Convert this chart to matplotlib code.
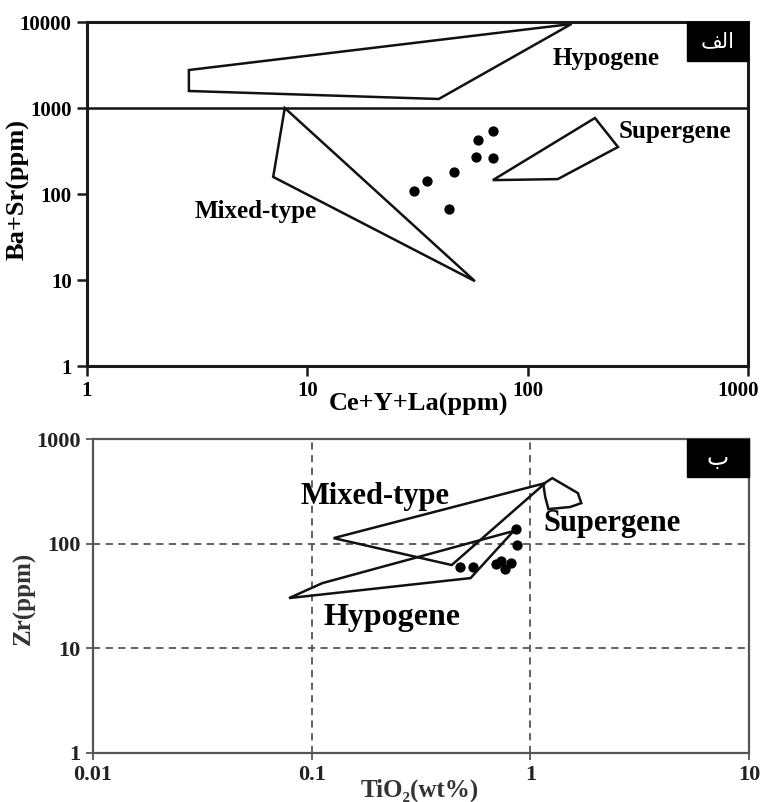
import matplotlib
matplotlib.use("Agg")
import matplotlib.pyplot as plt
import matplotlib.transforms as mtransforms
from matplotlib.patches import Polygon, Rectangle
from matplotlib.ticker import FixedLocator, NullLocator, FixedFormatter

plt.rcParams['font.family'] = ['Liberation Serif', 'DejaVu Sans']
plt.rcParams['font.weight'] = 'bold'

# ---------------- Data: top panel (Ba+Sr vs Ce+Y+La) ----------------
top_hypo_x = [2.9, 158, 39.5, 2.9]
top_hypo_y = [2765, 9480, 1273, 1577]
top_mixed_x = [7.9, 7.0, 57.6]
top_mixed_y = [1000, 158, 9.7]
top_super_x = [202, 257, 137, 69.5]
top_super_y = [765, 352, 149, 145]
top_sample_x = [69.5, 59.4, 58.2, 69.5, 46.3, 34.9, 30.5, 43.9]
top_sample_y = [540, 425, 269, 262, 180, 142, 108, 67]
top_xticks = [1, 10, 100, 1000]
top_xticklabels = ["1", "10", "100", "1000"]
top_yticks = [1, 10, 100, 1000, 10000]
top_yticklabels = ["1", "10", "100", "1000", "10000"]
top_boundary = 1000

# ---------------- Data: bottom panel (Zr vs TiO2) ----------------
bot_hypo_x = [0.0788, 0.112, 0.838, 0.533]
bot_hypo_y = [30.2, 42, 132, 46.9]
bot_mixed_x = [0.126, 1.17, 0.437]
bot_mixed_y = [113, 379, 62.5]
bot_super_x = [1.146, 1.26, 1.65, 1.71, 1.52, 1.21, 1.17]
bot_super_y = [371, 423, 304, 244, 224, 214, 279]
bot_sample_x = [0.475, 0.545, 0.694, 0.738, 0.769, 0.818, 0.863, 0.873]
bot_sample_y = [59.8, 59.8, 63.8, 68.2, 57.2, 65.3, 138, 97]
bot_xticks = [0.01, 0.1, 1, 10]
bot_xticklabels = ["0.01", "0.1", "1", "10"]
bot_yticks = [1, 10, 100, 1000]
bot_yticklabels = ["1", "10", "100", "1000"]

W, H = 763, 802
fig = plt.figure(figsize=(W / 100, H / 100), dpi=100)

def fx(px):
    return px / W

def fy(py):
    return 1 - py / H

# ---------------- Top axes ----------------
ax1 = fig.add_axes([fx(87), fy(366), fx(748) - fx(87), fy(22) - fy(366)])
ax1.set_xscale('log')
ax1.set_yscale('log')
ax1.set_xlim(1, 1000)
ax1.set_ylim(1, 10000)
for s in ax1.spines.values():
    s.set_linewidth(2.2)
    s.set_color('#1a1a1a')

ax1.xaxis.set_major_locator(FixedLocator(top_xticks))
ax1.xaxis.set_major_formatter(FixedFormatter(top_xticklabels))
ax1.yaxis.set_major_locator(FixedLocator(top_yticks))
ax1.yaxis.set_major_formatter(FixedFormatter(top_yticklabels))
ax1.xaxis.set_minor_locator(NullLocator())
ax1.yaxis.set_minor_locator(NullLocator())
ax1.tick_params(axis='both', direction='out', length=7, width=1.8, color='#1a1a1a',
                labelsize=15, pad=4)
for lab in ax1.get_xticklabels() + ax1.get_yticklabels():
    lab.set_fontweight('bold')
# keep last x tick label inside the figure
last = ax1.get_xticklabels()[-1]
last.set_transform(last.get_transform() +
                   mtransforms.ScaledTranslation(-10 / 100, 0, fig.dpi_scale_trans))

lw = 1.8
ax1.add_patch(Polygon(list(zip(top_hypo_x, top_hypo_y)), closed=True, fill=False,
                      edgecolor='#111111', linewidth=lw))
ax1.add_patch(Polygon(list(zip(top_mixed_x, top_mixed_y)), closed=True, fill=False,
                      edgecolor='#111111', linewidth=lw))
ax1.add_patch(Polygon(list(zip(top_super_x, top_super_y)), closed=True, fill=False,
                      edgecolor='#111111', linewidth=lw))
ax1.axhline(top_boundary, color='#111111', linewidth=lw)
ax1.scatter(top_sample_x, top_sample_y, s=55, color='black', zorder=5, linewidths=0)

ax1.text(226, 3811, "Hypogene", fontsize=18, fontweight='bold', ha='center', va='center')
ax1.text(465, 526, "Supergene", fontsize=18, fontweight='bold', ha='center', va='center')
ax1.text(5.85, 63.4, "Mixed-type", fontsize=18, fontweight='bold', ha='center', va='center')

ax1.add_patch(Rectangle((0.908, 0.888), 0.092, 0.112, transform=ax1.transAxes,
                        facecolor='black', edgecolor='black', zorder=6, clip_on=False))
ax1.text(0.954, 0.944, "\uFED2\uFEDF\uFE8D", transform=ax1.transAxes, color='white',
         fontsize=15, ha='center', va='center', zorder=7,
         family=['DejaVu Sans'], fontweight='normal')

fig.text(fx(18), fy(190), "Ba+Sr(ppm)", rotation=90, fontsize=19, fontweight='bold',
         ha='center', va='center')
fig.text(fx(419), fy(404), "Ce+Y+La(ppm)", fontsize=19, fontweight='bold',
         ha='center', va='center')

# ---------------- Bottom axes ----------------
ax2 = fig.add_axes([fx(93), fy(753), fx(749) - fx(93), fy(439) - fy(753)])
ax2.set_xscale('log')
ax2.set_yscale('log')
ax2.set_xlim(0.01, 10)
ax2.set_ylim(1, 1000)
for s in ax2.spines.values():
    s.set_linewidth(1.6)
    s.set_color('#555555')

ax2.xaxis.set_major_locator(FixedLocator(bot_xticks))
ax2.xaxis.set_major_formatter(FixedFormatter(bot_xticklabels))
ax2.yaxis.set_major_locator(FixedLocator(bot_yticks))
ax2.yaxis.set_major_formatter(FixedFormatter(bot_yticklabels))
ax2.xaxis.set_minor_locator(NullLocator())
ax2.yaxis.set_minor_locator(NullLocator())
ax2.tick_params(axis='both', direction='out', length=5, width=1.3, color='#555555',
                labelsize=16, pad=4)
for lab in ax2.get_xticklabels() + ax2.get_yticklabels():
    lab.set_fontweight('bold')
    lab.set_color('#222222')

for v in [0.1, 1]:
    ax2.axvline(v, color='#555555', linewidth=1.3, linestyle=(0, (4, 3)), zorder=1)
for v in [10, 100]:
    ax2.axhline(v, color='#555555', linewidth=1.3, linestyle=(0, (4, 3)), zorder=1)

ax2.add_patch(Polygon(list(zip(bot_hypo_x, bot_hypo_y)), closed=True, fill=False,
                      edgecolor='#111111', linewidth=lw, zorder=3))
ax2.add_patch(Polygon(list(zip(bot_mixed_x, bot_mixed_y)), closed=True, fill=False,
                      edgecolor='#111111', linewidth=lw, zorder=3))
ax2.add_patch(Polygon(list(zip(bot_super_x, bot_super_y)), closed=True, fill=False,
                      edgecolor='#111111', linewidth=lw, zorder=3))
ax2.scatter(bot_sample_x, bot_sample_y, s=55, color='black', zorder=5, linewidths=0)

ax2.text(0.195, 285, "Mixed-type", fontsize=22, fontweight='bold', ha='center', va='center')
ax2.text(2.36, 157, "Supergene", fontsize=22, fontweight='bold', ha='center', va='center')
ax2.text(0.233, 19.9, "Hypogene", fontsize=23, fontweight='bold', ha='center', va='center')

ax2.add_patch(Rectangle((0.905, 0.88), 0.095, 0.12, transform=ax2.transAxes,
                        facecolor='black', edgecolor='black', zorder=6, clip_on=False))
ax2.text(0.9525, 0.94, "ب", transform=ax2.transAxes, color='white',
         fontsize=17, ha='center', va='center', zorder=7,
         family=['DejaVu Sans'], fontweight='normal')

fig.text(fx(24), fy(598), "Zr(ppm)", rotation=90, fontsize=18, fontweight='bold',
         ha='center', va='center', color='#333333')
fig.text(fx(420), fy(790), "TiO\u2082(wt%)", fontsize=18, fontweight='bold',
         ha='center', va='center', color='#333333')

fig.savefig("out.png", dpi=100)
